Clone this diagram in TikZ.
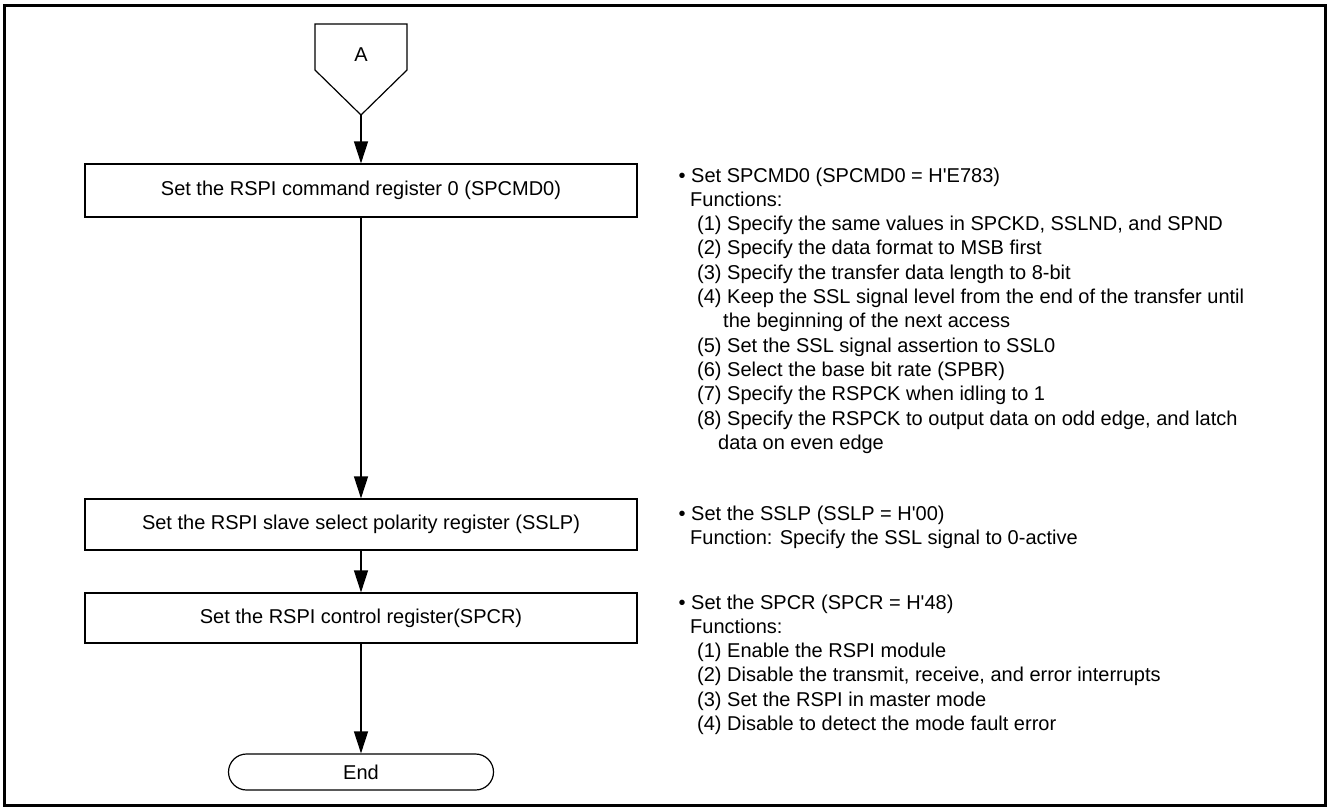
\documentclass[tikz,border=0pt]{standalone}
\usepackage{fontspec}
\setmainfont{Liberation Sans}
\usetikzlibrary{arrows.meta}
\newcommand{\q}{\textquotesingle}
\begin{document}
\begin{tikzpicture}[x=1pt,y=-1pt,
  every node/.style={font=\fontsize{20}{24}\selectfont},
  stepbox/.style={draw, line width=1.2pt, minimum width=552pt, inner sep=0pt},
  termbox/.style={draw, line width=1.2pt, rounded corners=18pt, minimum width=265pt, minimum height=36pt, inner sep=0pt},
  conn/.style={line width=1.2pt, -{Triangle[length=22pt,width=14pt]}},
  txt/.style={anchor=base west, inner sep=0pt}]
\useasboundingbox (0,0) rectangle (1328,807);
\draw[line width=3pt] (4,5.5) rectangle (1325,805.5);
% off-page connector
\draw[line width=1.2pt] (315,24) -- (407,24) -- (407,70) -- (361,115) -- (315,70) -- cycle;
\node (A) at (361,55) {A};
\coordinate (ptip) at (361,115);
% process boxes
\node[stepbox, minimum height=53pt] (b1) at (361,190.5) {Set the RSPI command register 0 (SPCMD0)};
\node[stepbox, minimum height=51pt] (b2) at (361,524.5) {Set the RSPI slave select polarity register (SSLP)};
\node[stepbox, minimum height=50pt] (b3) at (361,618) {Set the RSPI control register(SPCR)};
\node[termbox] (end) at (361,772) {End};
% connectors
\draw[conn] (ptip) -- (b1.north);
\draw[conn] (b1.south) -- (b2.north);
\draw[conn] (b2.south) -- (b3.north);
\draw[conn] (b3.south) -- (end.north);
% notes for SPCMD0
\node[txt] (n1) at (691,182.0) {\llap{\textbullet\ }Set SPCMD0 (SPCMD0 = H\q E783)};
\node[txt] (n2) at (690,206.3) {Functions:};
\node[txt] (n3) at (697,230.6) {(1) Specify the same values in SPCKD, SSLND, and SPND};
\node[txt] (n4) at (697,254.9) {(2) Specify the data format to MSB first};
\node[txt] (n5) at (697,279.2) {(3) Specify the transfer data length to 8-bit};
\node[txt] (n6) at (697,303.5) {(4) Keep the SSL signal level from the end of the transfer until};
\node[txt] (n7) at (723,327.8) {the beginning of the next access};
\node[txt] (n8) at (697,352.1) {(5) Set the SSL signal assertion to SSL0};
\node[txt] (n9) at (697,376.4) {(6) Select the base bit rate (SPBR)};
\node[txt] (n10) at (697,400.7) {(7) Specify the RSPCK when idling to 1};
\node[txt] (n11) at (697,425.0) {(8) Specify the RSPCK to output data on odd edge, and latch};
\node[txt] (n12) at (718,449.3) {data on even edge};
% notes for SSLP
\node[txt] (m1) at (691,520) {\llap{\textbullet\ }Set the SSLP (SSLP = H\q 00)};
\node[txt] (m2) at (690,544) {Function: Specify the SSL signal to 0-active};
% notes for SPCR
\node[txt] (k1) at (691,609.0) {\llap{\textbullet\ }Set the SPCR (SPCR = H\q 48)};
\node[txt] (k2) at (690,633.3) {Functions:};
\node[txt] (k3) at (697,657.6) {(1) Enable the RSPI module};
\node[txt] (k4) at (697,681.9) {(2) Disable the transmit, receive, and error interrupts};
\node[txt] (k5) at (697,706.2) {(3) Set the RSPI in master mode};
\node[txt] (k6) at (697,730.5) {(4) Disable to detect the mode fault error};
\end{tikzpicture}
\end{document}
